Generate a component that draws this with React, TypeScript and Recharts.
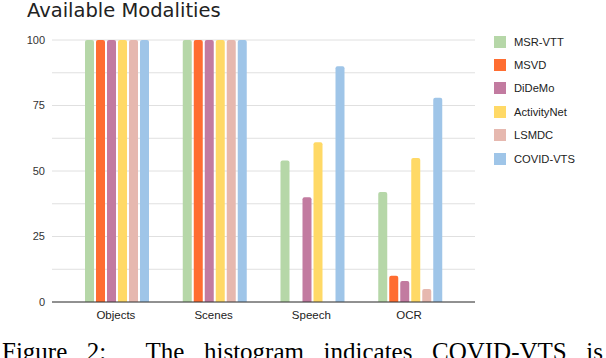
import React from "react";
import { BarChart, Bar, XAxis, YAxis, CartesianGrid } from "recharts";

const categories = ["Objects", "Scenes", "Speech", "OCR"];
const seriesNames = ["MSR-VTT", "MSVD", "DiDeMo", "ActivityNet", "LSMDC", "COVID-VTS"];
const seriesColors = ["#b6d7a8", "#ff6d31", "#c27ba0", "#ffd966", "#e6b8af", "#9fc5e8"];
const msrVtt = [100, 100, 54, 42];
const msvd = [100, 100, 0, 10];
const didemo = [100, 100, 40, 8];
const activityNet = [100, 100, 61, 55];
const lsmdc = [100, 100, 0, 5];
const covidVts = [100, 100, 90, 78];
const yGridTicks = [0, 12.5, 25, 37.5, 50, 62.5, 75, 87.5, 100];
const yLabelTicks = [0, 25, 50, 75, 100];

const seriesValues = [msrVtt, msvd, didemo, activityNet, lsmdc, covidVts];
const data = categories.map((c, i) => {
  const row: Record<string, string | number> = { name: c };
  seriesNames.forEach((s, k) => {
    row[s] = seriesValues[k][i];
  });
  return row;
});

export default function App() {
  return (
    <div style={{ position: "absolute", left: 0, top: 0, width: 606, height: 358, overflow: "hidden", background: "#fff" }}>
      <div
        style={{
          position: "absolute",
          left: 27,
          top: -1,
          fontFamily: "'DejaVu Sans', sans-serif",
          fontSize: 19.5,
          lineHeight: "24px",
          color: "#222",
          whiteSpace: "nowrap",
        }}
      >
        Available Modalities
      </div>
      <div style={{ position: "absolute", left: 0, top: 0 }}>
        <BarChart
          width={606}
          height={340}
          data={data}
          margin={{ top: 40, right: 131, bottom: 8, left: 0 }}
          barCategoryGap={18}
          barGap={2}
        >
          <CartesianGrid vertical={false} stroke="#e0e0e0" />
          <XAxis
            dataKey="name"
            height={30}
            padding={{ left: 15, right: 17 }}
            axisLine={{ stroke: "#333", strokeWidth: 1 }}
            tickLine={false}
            tickSize={0}
            tickMargin={9}
            tick={{ fill: "#222", fontSize: 11.5, fontFamily: "'Liberation Sans', Arial, sans-serif" }}
          />
          <YAxis
            width={52}
            domain={[0, 100]}
            ticks={yGridTicks}
            interval={0}
            axisLine={false}
            tickLine={false}
            tickSize={0}
            tickMargin={7}
            tickFormatter={(v: number) => (yLabelTicks.includes(v) ? String(v) : "")}
            tick={{ fill: "#333", fontSize: 11, fontFamily: "'Liberation Sans', Arial, sans-serif" }}
          />
          {seriesNames.map((s, k) => (
            <Bar key={s} dataKey={s} fill={seriesColors[k]} radius={[2, 2, 0, 0]} isAnimationActive={false} />
          ))}
        </BarChart>
      </div>
      <div style={{ position: "absolute", left: 494, top: 30 }}>
        {seriesNames.map((s, k) => (
          <div key={s} style={{ display: "flex", alignItems: "center", height: 23.4 }}>
            <div style={{ width: 12, height: 12, background: seriesColors[k] }} />
            <div
              style={{
                marginLeft: 8,
                fontFamily: "'Liberation Sans', Arial, sans-serif",
                fontSize: 11.2,
                color: "#222",
                whiteSpace: "nowrap",
              }}
            >
              {s}
            </div>
          </div>
        ))}
      </div>
      <div
        style={{
          position: "absolute",
          left: 2,
          top: 339,
          width: 601,
          fontFamily: "'Liberation Serif', 'Times New Roman', serif",
          fontSize: 25,
          lineHeight: "25px",
          color: "#000",
          textAlign: "justify",
          textAlignLast: "justify",
          whiteSpace: "nowrap",
        }}
      >
        Figure 2: &nbsp;The histogram indicates COVID-VTS is
      </div>
    </div>
  );
}
